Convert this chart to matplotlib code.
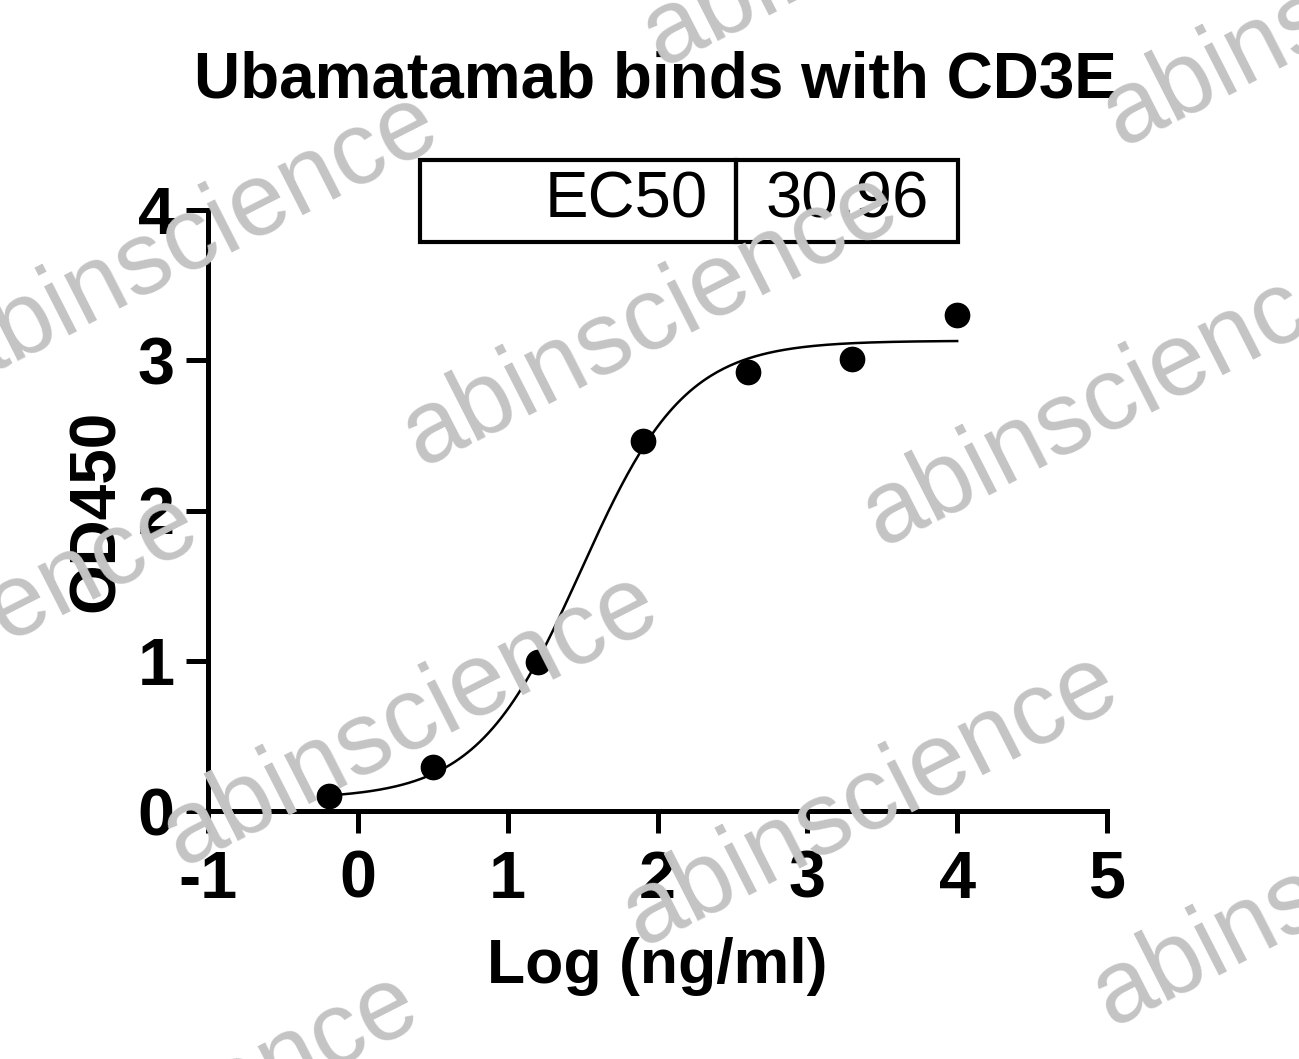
import matplotlib.pyplot as plt
import numpy as np
from matplotlib.patches import Rectangle

plt.rcParams['font.family'] = ['Liberation Sans', 'DejaVu Sans']

# data
log_conc = [-0.194, 0.505, 1.204, 1.903, 2.602, 3.301, 4.0]
od450 = [0.10, 0.29, 0.99, 2.46, 2.92, 3.01, 3.30]
ec50 = 30.96
# 4PL fit parameters (bottom, top, hill)
bottom, top, hill = 0.08, 3.13, 1.25

xticks = [-1, 0, 1, 2, 3, 4, 5]
yticks = [0, 1, 2, 3, 4]

W, H = 1299, 1059
fig = plt.figure(figsize=(W / 100, H / 100), dpi=100)
ax = fig.add_axes([208 / W, 1 - 811 / H, (1107 - 208) / W, (811 - 210) / H])

xf = np.linspace(min(log_conc), max(log_conc), 300)
yf = bottom + (top - bottom) / (1 + 10 ** ((np.log10(ec50) - xf) * hill))
ax.plot(xf, yf, color='black', lw=1.8, zorder=3)
ax.plot(log_conc, od450, 'o', color='black', ms=17.5, zorder=4, clip_on=False)

ax.set_xlim(-1, 5)
ax.set_ylim(0, 4)
ax.set_xticks(xticks)
ax.set_yticks(yticks)
ax.set_xticklabels([str(t) for t in xticks], fontsize=48, fontweight='bold')
ax.set_yticklabels([str(t) for t in yticks], fontsize=48, fontweight='bold')
ax.tick_params(axis='both', width=3.6, length=16, direction='out')
ax.tick_params(axis='x', pad=12)
ax.tick_params(axis='y', pad=8)
for s in ['top', 'right']:
    ax.spines[s].set_visible(False)
for s in ['left', 'bottom']:
    ax.spines[s].set_linewidth(3.6)

ax.set_xlabel('Log (ng/ml)', fontsize=45, fontweight='bold', labelpad=18)
ax.set_ylabel('OD450', fontsize=46, fontweight='bold', labelpad=8)

fig.text(655 / W, 1 - 80 / H, 'Ubamatamab binds with CD3E', fontsize=46,
         fontweight='bold', ha='center', va='center')

# EC50 table box
bx0, bx1, bdiv, by0, by1 = 420, 958, 736, 160, 242
for a, b in [(bx0, bdiv), (bdiv, bx1)]:
    fig.patches.append(Rectangle((a / W, 1 - by1 / H), (b - a) / W, (by1 - by0) / H,
                                 transform=fig.transFigure, fill=False,
                                 lw=3, ec='black'))
fig.text((bdiv - 28) / W, 1 - 201 / H, 'EC50', fontsize=47, ha='right', va='center')
fig.text((bdiv + bx1) / 2 / W, 1 - 201 / H, f'{ec50:.2f}', fontsize=47,
         ha='center', va='center')

# watermarks
wm_centers = [(650, 320), (1110, 400), (190, 240), (-50, 640), (410, 720),
              (870, 800), (890, -80), (1350, 0), (1340, 880), (170, 1120)]
for cx, cy in wm_centers:
    fig.text(cx / W, 1 - cy / H, 'abinscience', fontsize=74, color='#c4c4c4',
             rotation=27, ha='center', va='center', rotation_mode='anchor',
             zorder=10)

fig.savefig('out.png', dpi=100)
